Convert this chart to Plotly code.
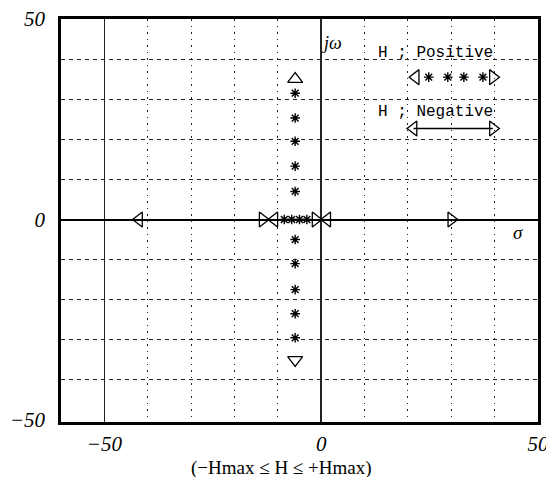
import plotly.graph_objects as go

# ---- data ----
# imaginary-axis branch (positive H)
branch_x = [-6, -6, -6, -6, -6, -6, -6, -6, -6, -6]
branch_y = [31.5, 25.3, 19.5, 13.3, 7, -5, -11, -17.5, -23.5, -29.5]
start_up_x = [-6]
start_up_y = [35]
start_dn_x = [-6]
start_dn_y = [-35]

# real-axis points
real_left_x = [-42, -10.8, 1.4]       # left-pointing triangles
real_right_x = [-13.5, -1.3, 30]      # right-pointing triangles
real_star_x = [-8.5, -6.8, -5.0, -3.3]

# legend sample glyphs
leg_pos_tri_left = [21.8]
leg_pos_stars = [24.8, 29.2, 32.9, 37.3]
leg_pos_tri_right = [39.6]
leg_pos_y = 35.5
leg_neg_x = [21.3, 39.6]
leg_neg_y = 22.7

x_range = [-60, 50]
y_range = [-50.5, 50]

fig = go.Figure()

tri = dict(color="black", size=13, line=dict(color="black", width=1.3))
star = dict(symbol="asterisk-open", color="black", size=8, line=dict(color="black", width=1.4))

fig.add_trace(go.Scatter(x=branch_x, y=branch_y, mode="markers", marker=star, hoverinfo="skip"))
fig.add_trace(go.Scatter(x=start_up_x, y=start_up_y, mode="markers",
                         marker=dict(symbol="triangle-up-open", **tri)))
fig.add_trace(go.Scatter(x=start_dn_x, y=start_dn_y, mode="markers",
                         marker=dict(symbol="triangle-down-open", **tri)))
fig.add_trace(go.Scatter(x=real_left_x, y=[0] * len(real_left_x), mode="markers",
                         marker=dict(symbol="triangle-left-open", **tri)))
fig.add_trace(go.Scatter(x=real_right_x, y=[0] * len(real_right_x), mode="markers",
                         marker=dict(symbol="triangle-right-open", **tri)))
fig.add_trace(go.Scatter(x=real_star_x, y=[0] * len(real_star_x), mode="markers", marker=star))

# legend samples
fig.add_trace(go.Scatter(x=leg_pos_tri_left, y=[leg_pos_y], mode="markers",
                         marker=dict(symbol="triangle-left-open", **tri)))
fig.add_trace(go.Scatter(x=leg_pos_stars, y=[leg_pos_y] * len(leg_pos_stars), mode="markers", marker=star))
fig.add_trace(go.Scatter(x=leg_pos_tri_right, y=[leg_pos_y], mode="markers",
                         marker=dict(symbol="triangle-right-open", **tri)))
fig.add_trace(go.Scatter(x=leg_neg_x, y=[leg_neg_y] * 2, mode="lines+markers",
                         line=dict(color="black", width=1.5),
                         marker=dict(symbol=["triangle-left-open", "triangle-right-open"], **tri)))

serif_it = dict(family="Liberation Serif", size=21, color="black", style="italic")
mono = dict(family="Liberation Mono, Courier New, monospace", size=16, color="black")

# the page body adds an 8px offset, so the figure is 8px smaller and the margins compensate
fig.update_layout(
    width=546, height=469,
    margin=dict(l=53, r=16, t=11, b=55, autoexpand=False),
    paper_bgcolor="white", plot_bgcolor="white",
    showlegend=False,
    xaxis=dict(
        range=x_range, tickmode="linear", tick0=0, dtick=50, automargin=False,
        showgrid=True, gridcolor="#222", gridwidth=1,
        zeroline=True, zerolinecolor="#222", zerolinewidth=1.5,
        showline=True, mirror=True, linecolor="black", linewidth=2.5,
        ticks="", tickfont=serif_it, ticklabelstandoff=1, ticklabeloverflow="allow",
        minor=dict(dtick=10, tick0=0, showgrid=True, gridcolor="#222", gridwidth=1,
                   griddash="1.5px,5px"),
    ),
    yaxis=dict(
        range=y_range, tickmode="linear", tick0=0, dtick=50, automargin=False,
        showgrid=False,
        zeroline=True, zerolinecolor="black", zerolinewidth=2,
        showline=True, mirror=True, linecolor="black", linewidth=2.5,
        ticks="", tickfont=serif_it, ticklabelstandoff=9, ticklabeloverflow="allow",
        minor=dict(dtick=10, tick0=0, showgrid=True, gridcolor="#222", gridwidth=1,
                   griddash="4px,4px"),
    ),
    annotations=[
        dict(x=26.4, y=41.5, text="H ; Positive", showarrow=False, font=mono, xref="x", yref="y"),
        dict(x=26.4, y=26.8, text="H ; Negative", showarrow=False, font=mono, xref="x", yref="y"),
        dict(x=2.4, y=44, text="jω", showarrow=False, xref="x", yref="y",
             font=dict(family="Liberation Serif", size=18, color="black", style="italic")),
        dict(x=45.4, y=-3.3, text="σ", showarrow=False, xref="x", yref="y",
             font=dict(family="Liberation Serif", size=19, color="black", style="italic")),
        dict(x=0.463, y=-0.113, xref="paper", yref="paper", yanchor="middle",
             text="(−Hmax ≤ H ≤ +Hmax)", showarrow=False,
             font=dict(family="Liberation Serif", size=19, color="black")),
    ],
)

fig.write_html("out.html")
